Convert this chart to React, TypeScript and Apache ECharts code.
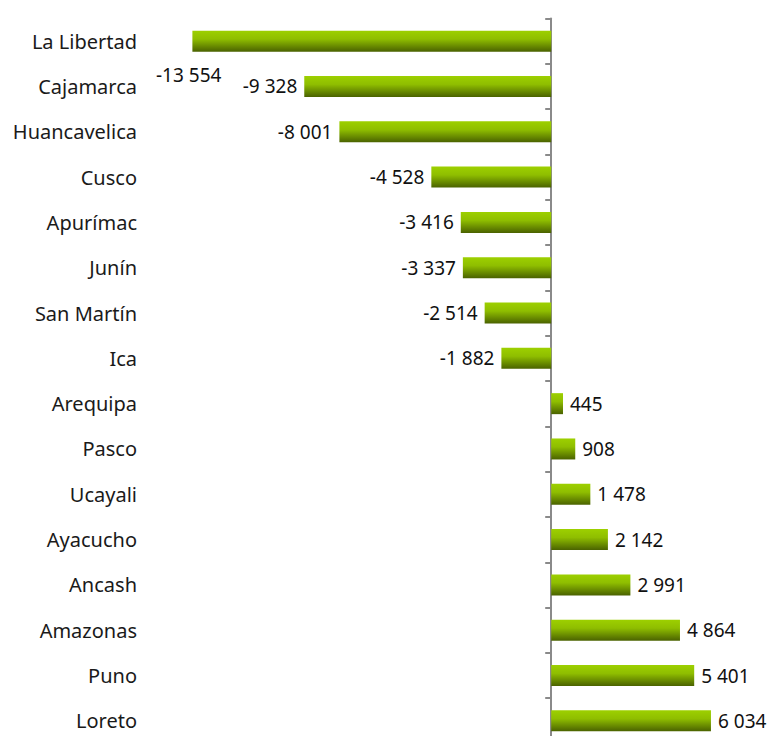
import React, { useEffect, useRef } from "react";
import * as echarts from "echarts";

const categories = [
  "La Libertad", "Cajamarca", "Huancavelica", "Cusco", "Apurímac", "Junín",
  "San Martín", "Ica", "Arequipa", "Pasco", "Ucayali", "Ayacucho", "Ancash",
  "Amazonas", "Puno", "Loreto",
];
const values = [
  -13554, -9328, -8001, -4528, -3416, -3337, -2514, -1882, 445, 908, 1478,
  2142, 2991, 4864, 5401, 6034,
];

const fmt = (v: number) => {
  const s = String(Math.abs(v)).replace(/\B(?=(\d{3})+(?!\d))/g, " ");
  return (v < 0 ? "-" : "") + s;
};

export default function App() {
  const ref = useRef<HTMLDivElement>(null);
  useEffect(() => {
    if (!ref.current) return;
    const chart = echarts.init(ref.current, null, { renderer: "svg" });
    const font = "'Noto Sans', sans-serif";
    const data = values.map((v, i) => {
      const item: any = {
        value: v,
        label: {
          show: true,
          position: v < 0 ? "left" : "right",
          distance: 7,
          formatter: () => fmt(v),
        },
      };
      if (i === 0) item.label.offset = [36, 34];
      return item;
    });
    chart.setOption({
      animation: false,
      grid: { left: 145, top: 18.5, height: 725, width: 618 },
      xAxis: {
        type: "value",
        min: -15344,
        max: 8000,
        show: false,
      },
      yAxis: [
        {
          type: "category",
          data: categories,
          inverse: true,
          position: "left",
          axisLine: { show: false, onZero: false },
          axisTick: { show: false },
          axisLabel: {
            margin: 8,
            fontFamily: font,
            fontSize: 20,
            color: "#1a1a1a",
          },
        },
        {
          type: "category",
          data: categories,
          inverse: true,
          position: "left",
          axisLine: {
            show: true,
            onZero: true,
            lineStyle: { color: "#8a8a8a", width: 2 },
          },
          axisTick: {
            show: true,
            length: 6,
            lineStyle: { color: "#8a8a8a", width: 2 },
          },
          axisLabel: { show: false },
        },
      ],
      series: [
        {
          type: "bar",
          yAxisIndex: 0,
          data,
          barWidth: 21,
          itemStyle: {
            color: new echarts.graphic.LinearGradient(0, 0, 0, 1, [
              { offset: 0, color: "#9dd000" },
              { offset: 0.4, color: "#8fbe00" },
              { offset: 1, color: "#4a6200" },
            ]),
          },
          label: {
            fontFamily: font,
            fontSize: 19,
            color: "#111",
          },
        },
      ],
    });
    return () => chart.dispose();
  }, []);
  return (
    <div
      style={{
        position: "absolute",
        left: 0,
        top: 0,
        width: 770,
        height: 736,
        overflow: "hidden",
      }}
    >
      <div ref={ref} style={{ width: 770, height: 750 }} />
    </div>
  );
}
